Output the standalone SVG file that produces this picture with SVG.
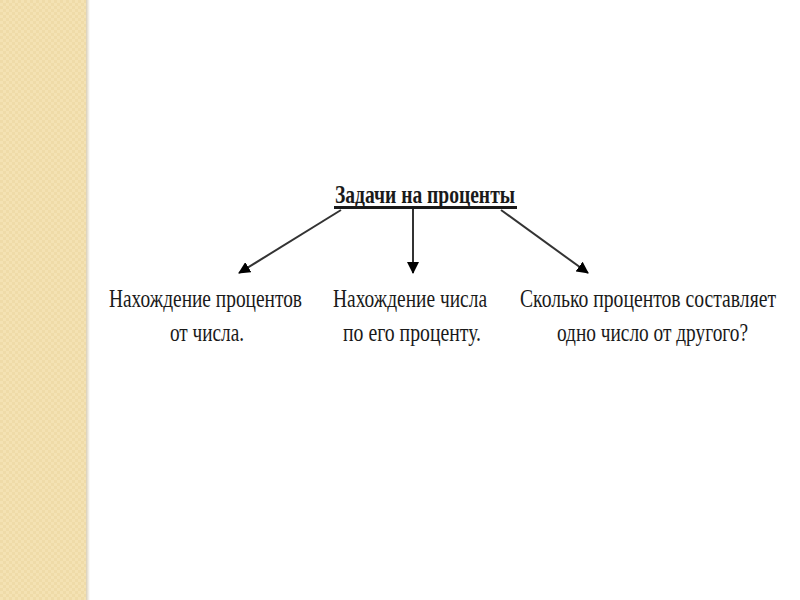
<svg xmlns="http://www.w3.org/2000/svg" width="800" height="600" viewBox="0 0 800 600">
<defs>
<pattern id="chk" width="6" height="6" patternUnits="userSpaceOnUse">
<rect width="6" height="6" fill="#F4E2B3"/>
<rect width="3" height="3" fill="#EFDBA8"/>
<rect x="3" y="3" width="3" height="3" fill="#EFDBA8"/>
</pattern>
<linearGradient id="edge" x1="0" y1="0" x2="1" y2="0">
<stop offset="0" stop-color="#D9CFB8"/>
<stop offset="1" stop-color="#FFFFFF"/>
</linearGradient>
<marker id="ah" markerWidth="12" markerHeight="12" refX="11" refY="6" orient="auto" markerUnits="userSpaceOnUse">
<path d="M0,0 L12,6 L0,12 Z" fill="#000"/>
</marker>
<style>
.t{font-family:"Liberation Serif","Times New Roman",serif;font-size:25px;fill:#1a1a1a}
.title{font-family:"Liberation Serif","Times New Roman",serif;font-size:26px;font-weight:bold;fill:#1a1a1a}
.c{stroke:#333;stroke-width:2;fill:none}
</style>
</defs>
<rect width="800" height="600" fill="#FFFFFF"/>
<rect x="0" y="0" width="86" height="600" fill="url(#chk)"/>
<rect x="86" y="0" width="4" height="600" fill="url(#edge)"/>
<g id="title">
<text class="title" x="335" y="203" textLength="180" lengthAdjust="spacingAndGlyphs">Задачи на проценты</text>
<rect x="334" y="206" width="183" height="3" fill="#1a1a1a"/>
</g>
<g id="connectors">
<line class="c" x1="341" y1="210" x2="239" y2="273" marker-end="url(#ah)"/>
<line class="c" x1="413" y1="209" x2="413" y2="273" marker-end="url(#ah)"/>
<line class="c" x1="501" y1="210" x2="588" y2="273" marker-end="url(#ah)"/>
</g>
<g id="node1">
<text class="t" x="109" y="307" textLength="193" lengthAdjust="spacingAndGlyphs">Нахождение процентов</text>
<text class="t" x="170" y="341" textLength="74" lengthAdjust="spacingAndGlyphs">от числа.</text>
</g>
<g id="node2">
<text class="t" x="333" y="307" textLength="154" lengthAdjust="spacingAndGlyphs">Нахождение числа</text>
<text class="t" x="343" y="341" textLength="138" lengthAdjust="spacingAndGlyphs">по его проценту.</text>
</g>
<g id="node3">
<text class="t" x="520" y="307" textLength="256" lengthAdjust="spacingAndGlyphs">Сколько процентов составляет</text>
<text class="t" x="557" y="341" textLength="191" lengthAdjust="spacingAndGlyphs">одно число от другого?</text>
</g>
</svg>
